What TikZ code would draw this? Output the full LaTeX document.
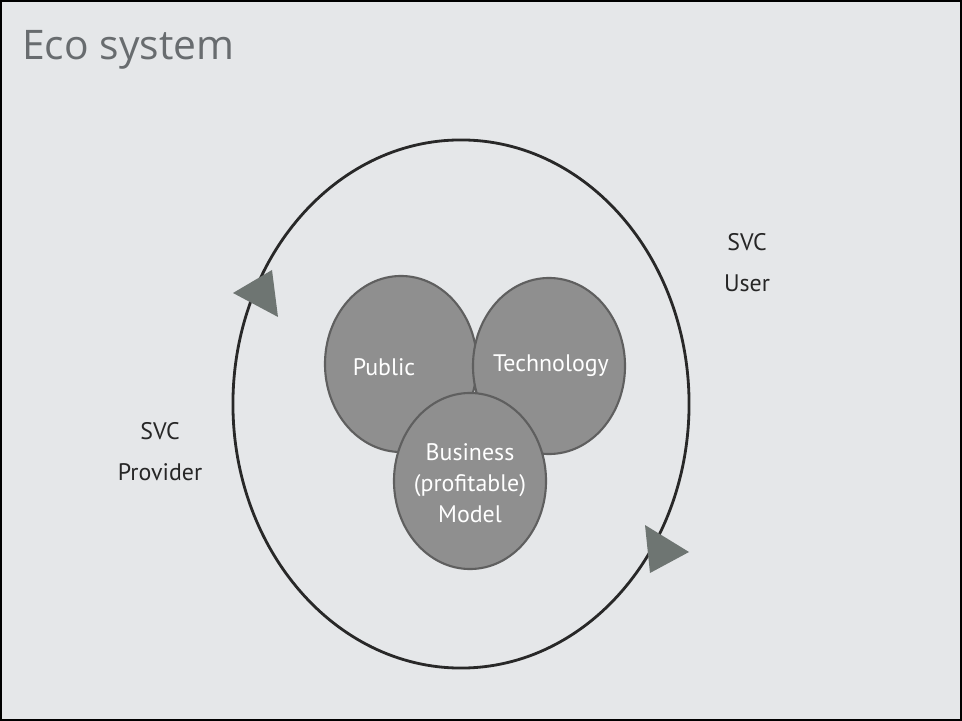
\documentclass[tikz,border=0pt]{standalone}
\usepackage{fontspec}
\setmainfont{PT Sans}
\newfontfamily\titlefont{Open Sans}
\usetikzlibrary{shapes.geometric}
\definecolor{slidebg}{RGB}{229,231,233}
\definecolor{titlegray}{RGB}{104,108,111}
\definecolor{discfill}{RGB}{143,143,143}
\definecolor{discline}{RGB}{95,95,95}
\definecolor{tipgray}{RGB}{110,117,114}
\definecolor{loopline}{RGB}{40,40,40}

\begin{document}
\begin{tikzpicture}[x=0.025cm, y=-0.025cm, every node/.style={font=\fontsize{17}{20}\selectfont}]
\tikzset{disc/.style={draw=discline, line width=1.5pt, fill=discfill, ellipse, minimum width=3.8cm, minimum height=4.4cm}}
\tikzset{disclabel/.style={text=white, align=center, font=\fontsize{17}{22}\selectfont}}
\tikzset{role/.style={text=black!85, align=center, font=\fontsize{17}{29}\selectfont}}

% Slide frame and title
\useasboundingbox (0,0) rectangle (962,721);
\fill[slidebg] (0,0) rectangle (962,721);
\draw[line width=2pt] (1,1) rectangle (961,720);
\node[anchor=base west, inner sep=0pt, text=titlegray, font=\titlefont\fontsize{29}{32}\selectfont] (title) at (22,60) {Eco system};

% Outer loop with its two arrow tips
\draw[loopline, line width=2pt] (461,404) ellipse [x radius=5.7cm, y radius=6.6cm];
\fill[tipgray] (233,293) -- (272,270) -- (278,317) -- cycle;
\fill[tipgray] (645,525) -- (689,552) -- (650,573) -- cycle;

% Three overlapping discs
\node[disc] (public) at (401,364) {};
\node[disc] (tech) at (549,366) {};
\node[disc] (biz) at (470,481) {};
\node[disclabel] (publbl) at (384,367) {Public};
\node[disclabel] (techlbl) at (551,366) {Technology};
\node[disclabel] (bizlbl) at (470,483) {Business\\(profitable)\\Model};

% Roles on either side
\node[role] (provider) at (160,452) {SVC\\Provider};
\node[role] (user) at (747,263) {SVC\\User};
\end{tikzpicture}
\end{document}
